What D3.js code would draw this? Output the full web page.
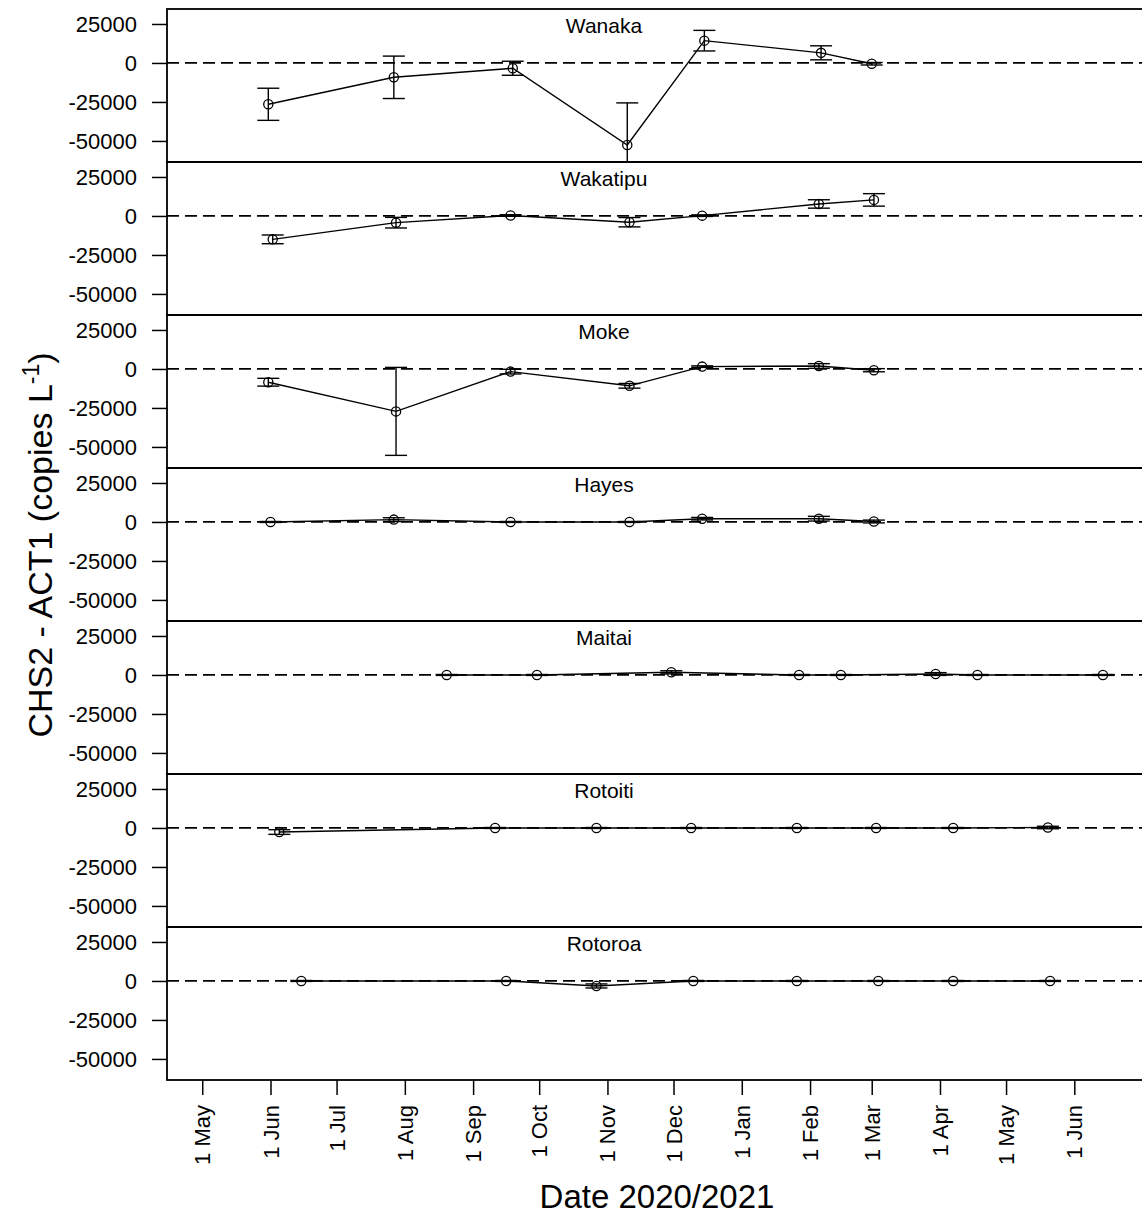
<!DOCTYPE html>
<html>
<head>
<meta charset="utf-8">
<script src="https://cdn.jsdelivr.net/npm/d3@7"></script>
<style>
  html, body { margin: 0; padding: 0; background: #fff; }
  svg text { font-family: "Liberation Sans", Arial, sans-serif; fill: #000; }
</style>
</head>
<body>
<svg id="chart" width="1142" height="1214"></svg>
<script>
// Difference between CHS2 and ACT1 concentrations per lake, with error bars.
const lakes = ["Wanaka", "Wakatipu", "Moke", "Hayes", "Maitai", "Rotoiti", "Rotoroa"];

const wanakaDates = ["2020-05-31", "2020-07-27", "2020-09-19", "2020-11-10", "2020-12-15", "2021-02-06", "2021-03-01"];
const wanakaDiff  = [-26500, -9200, -3400, -52600, 14300, 6500, -500];
const wanakaErr   = [10300, 13600, 4500, 27000, 6600, 4500, 800];

const wakatipuDates = ["2020-06-02", "2020-07-28", "2020-09-18", "2020-11-11", "2020-12-14", "2021-02-05", "2021-03-02"];
const wakatipuDiff  = [-15000, -4300, 300, -4000, 200, 7700, 10300];
const wakatipuErr   = [2800, 3400, 500, 3000, 500, 2700, 4000];

const mokeDates = ["2020-05-31", "2020-07-28", "2020-09-18", "2020-11-11", "2020-12-14", "2021-02-05", "2021-03-02"];
const mokeDiff  = [-8500, -27200, -1700, -10800, 1500, 1900, -800];
const mokeErr   = [2500, 28200, 1500, 1500, 500, 1500, 1000];

const hayesDates = ["2020-06-01", "2020-07-27", "2020-09-18", "2020-11-11", "2020-12-14", "2021-02-05", "2021-03-02"];
const hayesDiff  = [0, 1500, 0, 0, 2100, 2100, 300];
const hayesErr   = [300, 1200, 300, 300, 800, 1500, 900];

const maitaiDates = ["2020-08-20", "2020-09-30", "2020-11-30", "2021-01-27", "2021-02-15", "2021-03-30", "2021-04-18", "2021-06-14"];
const maitaiDiff  = [0, 0, 1700, 0, 0, 600, 0, 0];
const maitaiErr   = [300, 300, 1000, 300, 300, 900, 300, 300];

const rotoitiDates = ["2020-06-05", "2020-09-11", "2020-10-27", "2020-12-09", "2021-01-26", "2021-03-03", "2021-04-07", "2021-05-20"];
const rotoitiDiff  = [-2600, 0, 0, 0, 0, 0, 0, 300];
const rotoitiErr   = [1500, 300, 300, 300, 300, 300, 300, 800];

const rotoroaDates = ["2020-06-15", "2020-09-16", "2020-10-27", "2020-12-10", "2021-01-26", "2021-03-04", "2021-04-07", "2021-05-21"];
const rotoroaDiff  = [0, 0, -3200, 0, 0, 0, 0, 0];
const rotoroaErr   = [300, 300, 1300, 300, 300, 300, 300, 300];

const monthTicks = ["2020-05-01", "2020-06-01", "2020-07-01", "2020-08-01", "2020-09-01", "2020-10-01",
                    "2020-11-01", "2020-12-01", "2021-01-01", "2021-02-01", "2021-03-01", "2021-04-01",
                    "2021-05-01", "2021-06-01"];
const yTicks = [25000, 0, -25000, -50000];
const yDomain = [-63500, 34600];
const xDomain = ["2020-04-15", "2021-07-04"];

const parse = d3.timeParse("%Y-%m-%d");
const series = [
  [wanakaDates, wanakaDiff, wanakaErr],
  [wakatipuDates, wakatipuDiff, wakatipuErr],
  [mokeDates, mokeDiff, mokeErr],
  [hayesDates, hayesDiff, hayesErr],
  [maitaiDates, maitaiDiff, maitaiErr],
  [rotoitiDates, rotoitiDiff, rotoitiErr],
  [rotoroaDates, rotoroaDiff, rotoroaErr]
].map(([ds, vs, es]) => ds.map((d, i) => ({ date: parse(d), v: vs[i], e: es[i] })));

// layout
const plotLeft = 167, plotRight = 1147, plotTop = 9, panelH = 153;
const titleX = 604;
const svg = d3.select("#chart");

const x = d3.scaleTime().domain(xDomain.map(parse)).range([plotLeft, plotRight]);

lakes.forEach((lake, k) => {
  const py = plotTop + k * panelH;
  const y = d3.scaleLinear().domain(yDomain).range([py + panelH, py]);
  const g = svg.append("g");

  g.append("clipPath").attr("id", "clip" + k)
    .append("rect").attr("x", plotLeft).attr("y", py).attr("width", plotRight - plotLeft).attr("height", panelH);

  const inner = g.append("g").attr("clip-path", `url(#clip${k})`);

  // zero reference
  inner.append("line")
    .attr("x1", plotLeft).attr("x2", plotRight)
    .attr("y1", y(0)).attr("y2", y(0))
    .attr("stroke", "#000").attr("stroke-width", 1.7).attr("stroke-dasharray", "12,6");

  const data = series[k];

  // error bars
  const eb = inner.selectAll("g.eb").data(data).join("g").attr("class", "eb")
    .attr("stroke", "#000").attr("stroke-width", 1.4);
  eb.append("line")
    .attr("x1", d => x(d.date)).attr("x2", d => x(d.date))
    .attr("y1", d => y(d.v + d.e)).attr("y2", d => y(d.v - d.e));
  eb.append("line")
    .attr("x1", d => x(d.date) - 11).attr("x2", d => x(d.date) + 11)
    .attr("y1", d => y(d.v + d.e)).attr("y2", d => y(d.v + d.e));
  eb.append("line")
    .attr("x1", d => x(d.date) - 11).attr("x2", d => x(d.date) + 11)
    .attr("y1", d => y(d.v - d.e)).attr("y2", d => y(d.v - d.e));

  // connecting line
  inner.append("path").datum(data)
    .attr("fill", "none").attr("stroke", "#000").attr("stroke-width", 1.4)
    .attr("d", d3.line().x(d => x(d.date)).y(d => y(d.v)));

  // open circles
  inner.selectAll("circle").data(data).join("circle")
    .attr("cx", d => x(d.date)).attr("cy", d => y(d.v)).attr("r", 4.6)
    .attr("fill", "none").attr("stroke", "#000").attr("stroke-width", 1.3);

  // panel frame
  g.append("rect").attr("x", plotLeft).attr("y", py).attr("width", plotRight - plotLeft).attr("height", panelH)
    .attr("fill", "none").attr("stroke", "#000").attr("stroke-width", 1.8);

  // y axis (plain hyphen for negative labels)
  const ya = g.append("g").attr("transform", `translate(${plotLeft},0)`)
    .call(d3.axisLeft(y).tickValues(yTicks).tickFormat(d => String(d)).tickSize(15).tickPadding(15));
  ya.select(".domain").remove();
  ya.selectAll(".tick line").attr("stroke", "#000").attr("stroke-width", 1.5);
  ya.selectAll(".tick text").style("font-size", "22px").attr("dy", "0.36em");

  // panel title
  g.append("text").attr("x", titleX).attr("y", py + 24)
    .attr("text-anchor", "middle").style("font-size", "21px").text(lake);
});

// x axis at the bottom
const bottom = plotTop + lakes.length * panelH;
const xa = svg.append("g").attr("transform", `translate(0,${bottom})`)
  .call(d3.axisBottom(x).tickValues(monthTicks.map(parse)).tickFormat(d3.timeFormat("%-d %b")).tickSize(15));
xa.select(".domain").remove();
xa.selectAll(".tick line").attr("stroke", "#000").attr("stroke-width", 1.5);
xa.selectAll(".tick text")
  .style("font-size", "22px")
  .attr("text-anchor", "end")
  .attr("transform", "rotate(-90)")
  .attr("x", -25).attr("y", 7.5).attr("dy", 0);

// axis titles
svg.append("text")
  .attr("x", (plotLeft + plotRight) / 2).attr("y", 1208)
  .attr("text-anchor", "middle").style("font-size", "33px")
  .text("Date 2020/2021");

const yt = svg.append("text")
  .attr("transform", "translate(52,545) rotate(-90)")
  .attr("text-anchor", "middle").style("font-size", "34px");
yt.append("tspan").text("CHS2 - ACT1 (copies L");
yt.append("tspan").attr("dy", -13).style("font-size", "23px").text("-1");
yt.append("tspan").attr("dy", 13).text(")");
</script>
</body>
</html>
